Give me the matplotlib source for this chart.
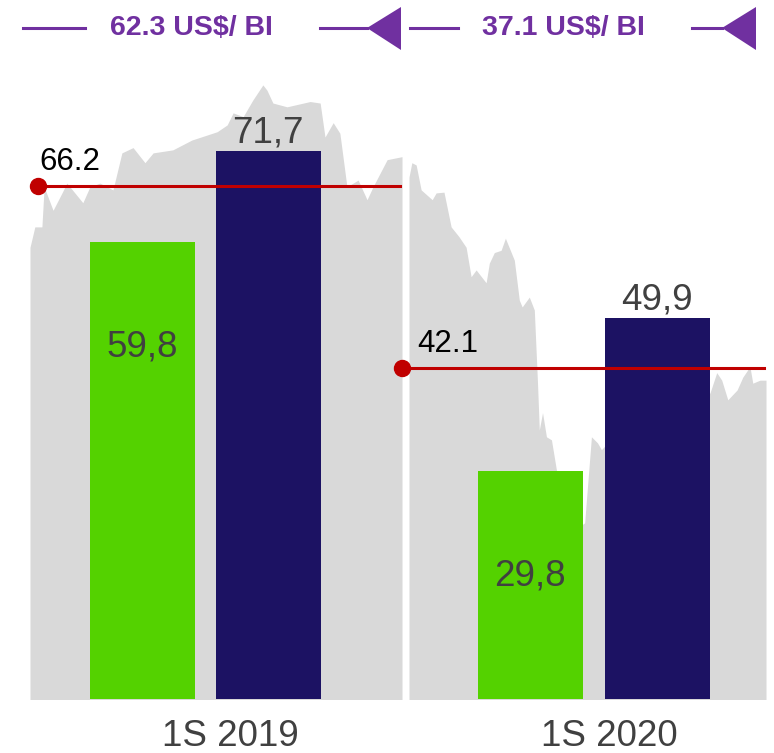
import matplotlib
matplotlib.use("Agg")
import matplotlib.pyplot as plt
import matplotlib.transforms as mtransforms
from matplotlib.patches import Polygon
from matplotlib.lines import Line2D

plt.rcParams['font.family'] = ['Liberation Sans', 'DejaVu Sans']

# semesters and bar values
periods = ["1S 2019", "1S 2020"]
green_vals = [59.8, 29.8]
navy_vals = [71.7, 49.9]
avg_brent = [66.2, 42.1]
realized = ["62.3 US$/ BI", "37.1 US$/ BI"]

# brent price silhouette (t = fraction of the semester)
t_2019 = [0.0, 0.013, 0.032, 0.038, 0.062, 0.086, 0.099, 0.142, 0.161, 0.188,
          0.223, 0.247, 0.277, 0.309, 0.331, 0.384, 0.435, 0.503, 0.530, 0.546,
          0.573, 0.599, 0.626, 0.637, 0.653, 0.691, 0.753, 0.780, 0.793, 0.815,
          0.833, 0.852, 0.882, 0.906, 0.922, 0.960, 1.0]
p_2019 = [58.1, 60.8, 60.8, 66.1, 63.0, 65.3, 66.6, 64.0, 66.1, 66.6,
          65.7, 70.6, 71.3, 69.3, 70.6, 71.0, 72.3, 73.4, 74.3, 75.9,
          75.4, 77.6, 79.6, 78.9, 77.2, 76.7, 77.4, 77.2, 72.7, 74.6,
          73.2, 66.1, 67.0, 64.4, 66.1, 69.7, 70.1]
t_2020 = [0.0, 0.008, 0.02, 0.034, 0.065, 0.076, 0.098, 0.118, 0.140, 0.160,
          0.174, 0.188, 0.216, 0.225, 0.239, 0.258, 0.270, 0.295, 0.309, 0.317,
          0.337, 0.351, 0.360, 0.365, 0.374, 0.385, 0.399, 0.413, 0.435, 0.463,
          0.492, 0.511, 0.528, 0.539, 0.590, 0.674, 0.758, 0.829, 0.843, 0.862,
          0.876, 0.893, 0.919, 0.935, 0.955, 0.963, 0.983, 1.0]
p_2020 = [67.4, 69.3, 69.0, 65.7, 64.4, 65.3, 65.4, 60.8, 59.5, 58.1,
          54.2, 55.1, 53.4, 56.0, 57.4, 57.7, 59.3, 56.4, 51.1, 50.2,
          51.5, 49.8, 40.1, 33.9, 36.2, 33.0, 32.6, 28.6, 24.6, 20.7,
          21.6, 33.0, 32.2, 31.3, 33.9, 36.6, 37.9, 38.5, 38.8, 41.5,
          40.5, 37.9, 39.2, 40.9, 42.3, 40.1, 40.5, 40.5]
times = [t_2019, t_2020]
prices = [p_2019, p_2020]

GREEN = '#54D200'
NAVY = '#1C1263'
GREY = '#D9D9D9'
RED = '#C00000'
PURPLE = '#7030A0'
DARK = '#404040'

W, H = 774, 753
fig = plt.figure(figsize=(W / 100, H / 100), dpi=100)


def fx(x):
    return x / W


def fy(y):
    return 1 - y / H


# panel layout in pixels: left, right
panels = [(30, 402), (409, 766)]
top_px, base_px = 60, 699
green_pos = [0.302, 0.340]
navy_pos = [0.640, 0.695]
bar_w = [0.282, 0.294]
dot_t = [0.022, -0.020]

for i in range(2):
    x0, x1 = panels[i]
    ax = fig.add_axes([fx(x0), fy(base_px), fx(x1 - x0), (base_px - top_px) / H])
    ax.set_xlim(0, 1)
    ax.set_ylim(-1.72, 82.9)
    ax.fill_between(times[i], prices[i], -5, color=GREY, lw=0)
    ax.axis('off')

    axb = ax.twinx()
    axb.set_xlim(0, 1)
    axb.set_ylim(0, 83.64)
    axb.axis('off')
    axb.bar([green_pos[i], navy_pos[i]], [green_vals[i], navy_vals[i]],
            width=bar_w[i], color=[GREEN, NAVY])

    # average line with dot
    axb.plot([dot_t[i], 0.995], [avg_brent[i], avg_brent[i]], color=RED, lw=2.2,
             transform=ax.transData, clip_on=False)
    axb.plot([dot_t[i]], [avg_brent[i]], 'o', color=RED, ms=11.5,
             transform=ax.transData, clip_on=False)
    tr = mtransforms.blended_transform_factory(ax.transAxes, ax.transData)
    axb.text(0.024, avg_brent[i] + 2.1, f"{avg_brent[i]:.1f}", transform=tr,
             fontsize=22.5, color='black', va='baseline', ha='left')

    # bar labels
    axb.text(navy_pos[i], navy_vals[i] + 1.1, f"{navy_vals[i]:.1f}".replace('.', ','),
             ha='center', va='baseline', fontsize=26.5, color=DARK)
    axb.text(green_pos[i], green_vals[i] - 15, f"{green_vals[i]:.1f}".replace('.', ','),
             ha='center', va='baseline', fontsize=26.5, color=DARK)

# category labels under panels
label_x = [230, 609]
for i in range(2):
    fig.text(fx(label_x[i]), fy(736), periods[i], ha='center', va='center',
             fontsize=26.5, color=DARK)

# realized price headers with purple lines and arrow heads
head_x = [191, 563]
line_segs = [[(23, 85), (320, 367)], [(410, 458), (692, 722)]]
tips = [367, 722]
for i in range(2):
    fig.text(fx(head_x[i]), fy(28), realized[i], ha='center', va='center',
             fontsize=20.5, fontweight='bold', color=PURPLE)
    for a, b in line_segs[i]:
        fig.add_artist(Line2D([fx(a), fx(b)], [fy(28), fy(28)], color=PURPLE, lw=2.2))
    tip = tips[i]
    fig.add_artist(Polygon([(fx(tip), fy(28)), (fx(tip + 34), fy(7)), (fx(tip + 34), fy(50))],
                           closed=True, color=PURPLE, lw=0))

fig.savefig('out.png', dpi=100)
